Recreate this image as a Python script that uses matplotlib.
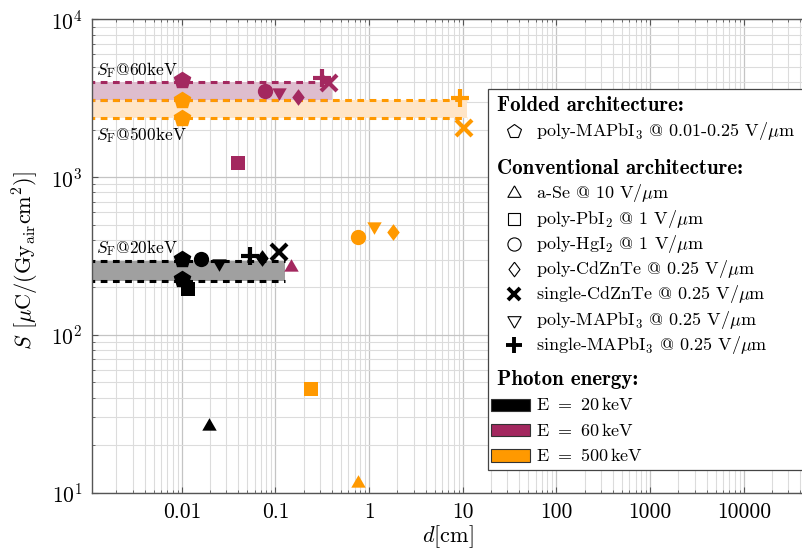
import numpy as np
import matplotlib
matplotlib.use('Agg')
import matplotlib.pyplot as plt
from matplotlib.ticker import FixedLocator, FuncFormatter, LogLocator, NullFormatter
from matplotlib.offsetbox import AnchoredOffsetbox, VPacker, HPacker, TextArea, DrawingArea
from matplotlib.lines import Line2D
from matplotlib.patches import Rectangle

plt.rcParams['font.family'] = ['cmr10', 'DejaVu Serif']
plt.rcParams['mathtext.fontset'] = 'cm'
plt.rcParams['axes.formatter.use_mathtext'] = True
plt.rcParams['axes.unicode_minus'] = False

# photon energies and their colours
energies = ['20', '60', '500']
e_colors = ['black', '#A3285F', '#FF9900']
band_colors = ['#A0A0A0', '#DEBDCE', '#FFE5C7']

# S_F bands (folded architecture) per energy
band_lo = [219, 3083, 2366]
band_hi = [294, 4006, 3083]
band_dmax = [0.125, 0.40, 11.0]
band_text = [r'$S_\mathrm{F}$@20keV', r'$S_\mathrm{F}$@60keV', r'$S_\mathrm{F}$@500keV']
band_text_S = [356, 4773, 1849]

# folded architecture, poly-MAPbI3 (energy index per point)
fold_e = [0, 0, 1, 2, 2]
fold_d = [0.01, 0.01, 0.01, 0.01, 0.01]
fold_S = [303, 226, 4120, 3083, 2370]

# conventional architecture: d [cm], S at 20 / 60 / 500 keV
ase_d = [0.0195, 0.148, 0.758]
ase_S = [26.5, 269, 11.5]
pbi2_d = [0.0116, 0.0394, 0.241]
pbi2_S = [195, 1228, 45.4]
hgi2_d = [0.0162, 0.078, 0.764]
hgi2_S = [303, 3514, 419]
pczt_d = [0.0715, 0.173, 1.81]
pczt_S = [306, 3225, 447]
sczt_d = [0.110, 0.375, 10.2]
sczt_S = [337, 3964, 2038]
pmapi_d = [0.0249, 0.110, 1.13]
pmapi_S = [284, 3480, 490]
smapi_d = [0.0529, 0.316, 9.29]
smapi_S = [316, 4250, 3157]

xticks = [0.01, 0.1, 1, 10, 100, 1000, 10000]

# marker shapes (pgfplots look)
tri_up = [(0, 1), (-0.866, -0.5), (0.866, -0.5), (0, 1)]
tri_dn = [(0, -1), (-0.866, 0.5), (0.866, 0.5), (0, -1)]
diamond = [(0, 1), (0.75, 0), (0, -1), (-0.75, 0), (0, 1)]

fig = plt.figure(figsize=(8.03, 5.51), dpi=100)
ax = fig.add_axes([0.11457, 0.10581, 0.8879, 0.85917])
ax.set_xscale('log')
ax.set_yscale('log')
ax.set_xlim(1.1e-3, 4.5e4)
ax.set_ylim(10, 1e4)
ax.set_axisbelow(True)

# bands
for i in range(3):
    ax.fill_between([1e-3, band_dmax[i]], band_lo[i], band_hi[i], color=band_colors[i], lw=0, zorder=1.5)
    ax.hlines([band_lo[i], band_hi[i]], 1e-3, band_dmax[i], colors=e_colors[i], lw=2.2,
              linestyles=(0, (2.2, 1.8)), zorder=2)
    ax.text(1.2e-3, band_text_S[i], band_text[i], fontsize=12.5, va='center', ha='left', zorder=2.5)

# folded points
for e, d, s in zip(fold_e, fold_d, fold_S):
    ax.plot(d, s, ls='none', marker='p', ms=12, color=e_colors[e], mec=e_colors[e], zorder=3)

conv = [
    (ase_d, ase_S, tri_up, 12, 0),
    (pbi2_d, pbi2_S, 's', 10, 0),
    (hgi2_d, hgi2_S, 'o', 11, 0),
    (pczt_d, pczt_S, diamond, 12, 0),
    (sczt_d, sczt_S, 'x', 11, 3.0),
    (pmapi_d, pmapi_S, tri_dn, 12, 0),
    (smapi_d, smapi_S, '+', 13, 3.0),
]
for d, s, m, ms, mew in conv:
    for i in range(3):
        kw = dict(mew=mew) if mew else dict(mew=0)
        ax.plot(d[i], s[i], ls='none', marker=m, ms=ms, color=e_colors[i], zorder=3, **kw)

# axes styling
ax.xaxis.set_major_locator(FixedLocator(xticks))
ax.xaxis.set_major_formatter(FuncFormatter(lambda v, p: f'{v:g}'))
ax.xaxis.set_minor_locator(LogLocator(base=10, subs=np.arange(2, 10), numticks=100))
ax.xaxis.set_minor_formatter(NullFormatter())
ax.yaxis.set_minor_locator(LogLocator(base=10, subs=np.arange(2, 10), numticks=100))
ax.yaxis.set_minor_formatter(NullFormatter())
ax.grid(True, which='major', color='#c4c4c4', lw=0.9)
ax.grid(True, which='minor', color='#dcdcdc', lw=0.8)
ax.tick_params(which='both', direction='in', top=True, right=True, color='#555555')
ax.tick_params(which='major', length=4, width=0.8, labelsize=15.5, pad=7)
ax.tick_params(which='minor', length=2.5, width=0.6)
for sp in ax.spines.values():
    sp.set_color('#555555')
    sp.set_linewidth(1.0)

ax.set_xlabel('$d$[cm]', fontsize=16)
ax.xaxis.set_label_coords(0.499, -0.064)
ax.set_ylabel(r'$S$ [$\mu$C/(Gy$_{\mathrm{air}}$cm$^2$)]', fontsize=16)
ax.yaxis.set_label_coords(-0.072, 0.49)

# legend
fs_leg = 13
row_h = 18.2


def text_area(s, bold=False):
    if bold:
        return TextArea(s, textprops=dict(fontsize=15, family=['cmb10']))
    return TextArea(s, textprops=dict(fontsize=fs_leg, family=['cmr10', 'DejaVu Serif']))


def heading(s):
    return HPacker(children=[DrawingArea(5, row_h), text_area(s, True)], align='center', pad=0, sep=0)


def marker_row(m, label, ms, filled=False, mew=0.8):
    da = DrawingArea(30, row_h)
    da.add_artist(Line2D([17], [row_h / 2], ls='none', marker=m, ms=ms,
                         mfc='black' if filled else 'white', mec='black', mew=mew))
    return HPacker(children=[da, text_area(label)], align='center', pad=0, sep=3)


def patch_row(color, label):
    da = DrawingArea(30, row_h)
    da.add_artist(Rectangle((0.5, row_h / 2 - 4.5), 28.5, 9, fc=color, ec='#333333', lw=0.8))
    return HPacker(children=[da, text_area(label)], align='center', pad=0, sep=3)


rows = [
    DrawingArea(236, 1.5),
    heading('Folded architecture:'),
    marker_row('p', r'poly-MAPbI$_3$ @ 0.01-0.25 V/$\mu$m', 10.5),
    DrawingArea(1, 8.4),
    heading('Conventional architecture:'),
    marker_row(tri_up, r'a-Se @ 10 V/$\mu$m', 11),
    marker_row('s', r'poly-PbI$_2$ @ 1 V/$\mu$m', 9),
    marker_row('o', r'poly-HgI$_2$ @ 1 V/$\mu$m', 9.5),
    marker_row(diamond, r'poly-CdZnTe @ 0.25 V/$\mu$m', 10.5),
    marker_row('x', r'single-CdZnTe @ 0.25 V/$\mu$m', 9, True, 2.8),
    marker_row(tri_dn, r'poly-MAPbI$_3$ @ 0.25 V/$\mu$m', 11),
    marker_row('+', r'single-MAPbI$_3$ @ 0.25 V/$\mu$m', 11, True, 2.8),
    DrawingArea(1, 6.8),
    heading('Photon energy:'),
]
for i in range(3):
    rows.append(patch_row(e_colors[i], 'E $=$ ' + energies[i] + r'$\,$keV'))

vp = VPacker(children=rows, align='left', pad=0, sep=0)
ab = AnchoredOffsetbox(loc='upper left', child=vp, pad=0.15, borderpad=0, frameon=True,
                       bbox_to_anchor=(0.5554, 0.8528), bbox_transform=ax.transAxes,
                       prop=dict(size=10))
ab.patch.set_boxstyle('square', pad=0)
ab.patch.set_edgecolor('#444444')
ab.patch.set_linewidth(0.9)
ab.set_zorder(10)
ax.add_artist(ab)

fig.savefig('out.png', dpi=100)
